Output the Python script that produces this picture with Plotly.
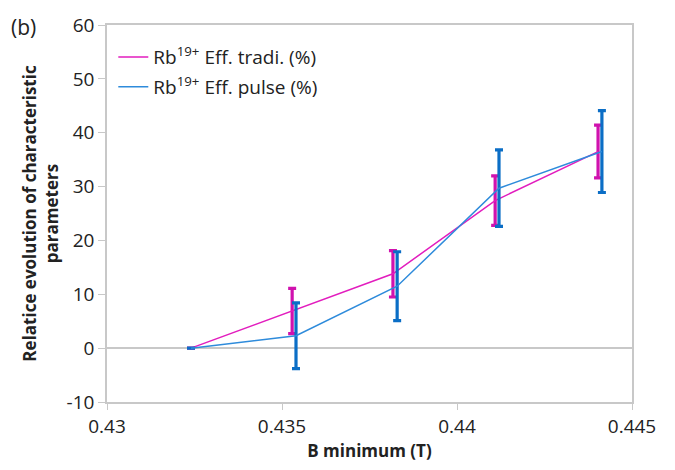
import plotly.graph_objects as go

# Data
x_tradi = [0.4324, 0.43529, 0.43817, 0.44109, 0.44403]
y_tradi = [0.0, 6.9, 13.8, 27.4, 36.5]
err_tradi = [0.0, 4.2, 4.3, 4.6, 4.9]

x_pulse = [0.4324, 0.4354, 0.43829, 0.4412, 0.44414]
y_pulse = [0.0, 2.3, 11.5, 29.7, 36.5]
err_pulse = [0.0, 6.1, 6.4, 7.1, 7.6]

x_ticks = [0.43, 0.435, 0.44, 0.445]
x_tick_labels = ["0.43", "0.435", "0.44", "0.445"]
y_ticks = [-10, 0, 10, 20, 30, 40, 50, 60]
y_tick_labels = ["-10", "0", "10", "20", "30", "40", "50", "60"]

name_tradi = "Rb<sup>19+</sup> Eff. tradi. (%)"
name_pulse = "Rb<sup>19+</sup> Eff. pulse (%)"

FONT = "Open Sans"

fig = go.Figure()
fig.add_trace(go.Scatter(
    x=x_tradi, y=y_tradi, mode="lines", name=name_tradi,
    line=dict(color="#E21DBE", width=1.5),
    error_y=dict(type="data", array=err_tradi, visible=True,
                 color="#D012AE", thickness=3.2, width=4),
    legendgroup="a",
))
fig.add_trace(go.Scatter(
    x=x_pulse, y=y_pulse, mode="lines", name=name_pulse,
    line=dict(color="#2E8BDB", width=1.5),
    error_y=dict(type="data", array=err_pulse, visible=True,
                 color="#0B6EC6", thickness=3.2, width=4),
    legendgroup="b",
))

fig.update_layout(
    width=675, height=470,
    margin=dict(l=107, r=43, t=22, b=65),
    paper_bgcolor="white", plot_bgcolor="white",
    font=dict(family=FONT, size=17, color="#222222"),
    showlegend=True,
    legend=dict(x=0.012, y=0.965, xanchor="left", yanchor="top",
                bgcolor="rgba(0,0,0,0)", font=dict(size=19, color="#222222"),
                tracegroupgap=2),
    xaxis=dict(
        range=[0.43, 0.445], tickvals=x_ticks, ticktext=x_tick_labels,
        showgrid=False, zeroline=False,
        showline=True, linecolor="#C8C8C8", linewidth=1.5, mirror=True,
        ticks="outside", ticklen=6, tickcolor="#C8C8C8",
        tickfont=dict(size=19, color="#222222"),
        title=dict(text="<b>B minimum (T)</b>", font=dict(size=17, color="#222222"), standoff=8),
    ),
    yaxis=dict(
        range=[-10, 60], tickvals=y_ticks, ticktext=y_tick_labels,
        showgrid=False, zeroline=True, zerolinecolor="#C8C8C8", zerolinewidth=1.5,
        showline=True, linecolor="#C8C8C8", linewidth=1.5, mirror=True,
        ticks="outside", ticklen=7, tickcolor="#C8C8C8",
        tickfont=dict(size=19, color="#222222"),
        title=dict(text="<b>Relatice evolution of characteristic<br>parameters</b>",
                   font=dict(size=17, color="#222222"), standoff=4),
    ),
    annotations=[dict(text="(b)", xref="paper", yref="paper", x=-0.187, y=1.0,
                      xanchor="left", yanchor="middle", yshift=-2, showarrow=False,
                      font=dict(size=21, color="#222222"))],
)

fig.write_html("out.html")
